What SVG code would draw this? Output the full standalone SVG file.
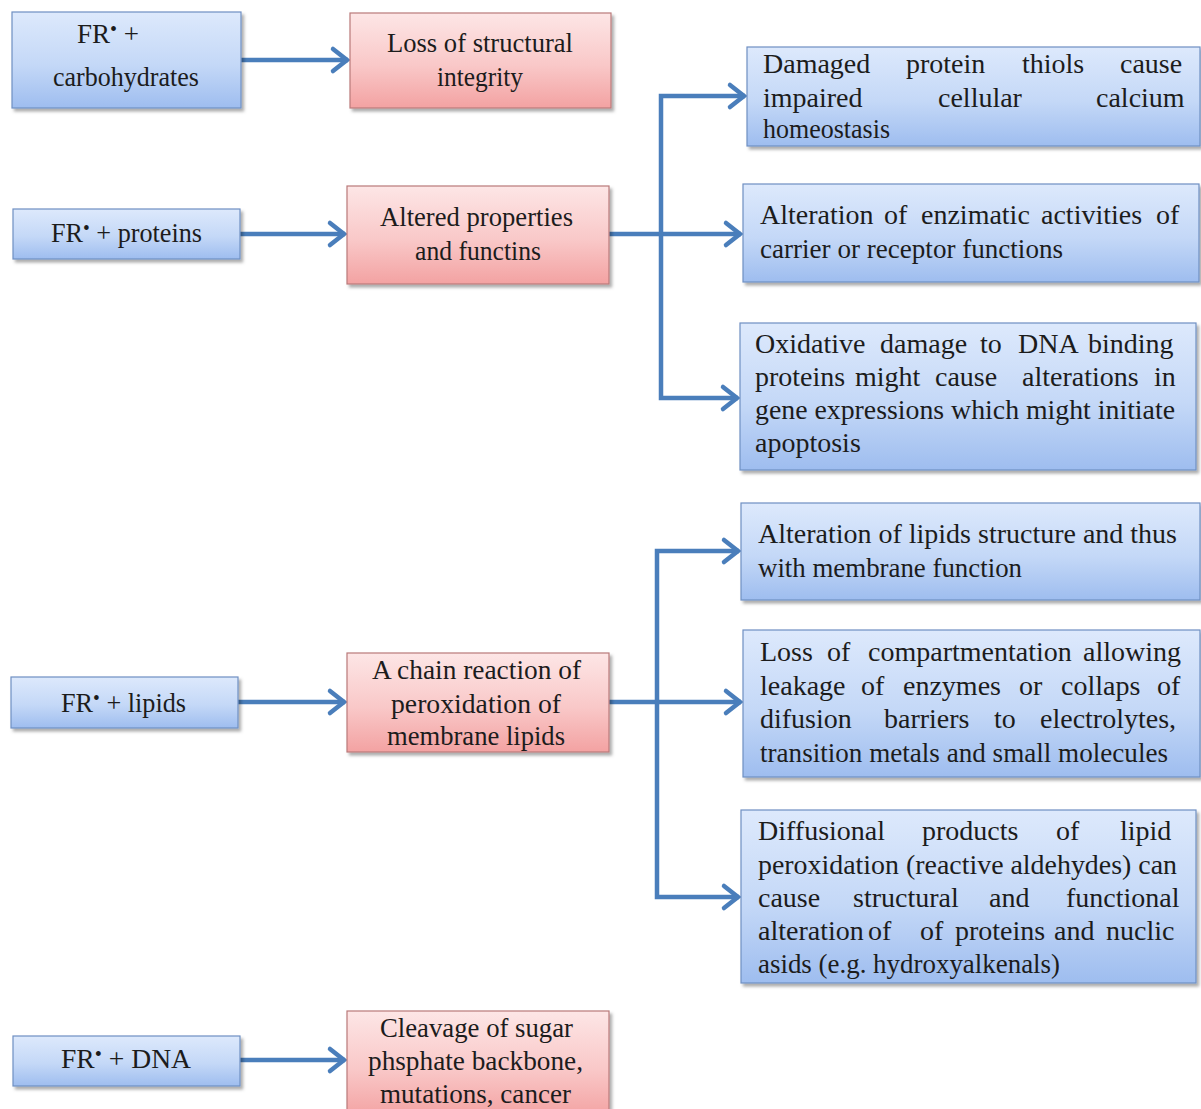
<svg xmlns="http://www.w3.org/2000/svg" width="1201" height="1109" viewBox="0 0 1201 1109">
<defs>
<linearGradient id="gBlue" x1="0" y1="0" x2="0" y2="1">
<stop offset="0" stop-color="#dde9fc"/>
<stop offset="0.55" stop-color="#c4d8f7"/>
<stop offset="1" stop-color="#9ebdef"/>
</linearGradient>
<linearGradient id="gPink" x1="0" y1="0" x2="0" y2="1">
<stop offset="0" stop-color="#fde6e6"/>
<stop offset="0.55" stop-color="#f9c8c8"/>
<stop offset="1" stop-color="#f3a2a2"/>
</linearGradient>
<filter id="sh" x="-5%" y="-10%" width="115%" height="130%">
<feDropShadow dx="2.5" dy="3" stdDeviation="1.8" flood-color="#000" flood-opacity="0.32"/>
</filter>
<marker id="arr" markerUnits="userSpaceOnUse" markerWidth="26" markerHeight="30" viewBox="0 0 26 30" refX="20" refY="15" orient="auto">
<path d="M5,4 L19,15 L5,26" fill="none" stroke="#4a7ebb" stroke-width="4.5" stroke-linecap="round" stroke-linejoin="miter"/>
</marker>
</defs>
<style>
.blue{fill:url(#gBlue);stroke:#6f8fc2;stroke-width:1.2;filter:url(#sh)}
.pink{fill:url(#gPink);stroke:#b97a7a;stroke-width:1.2;filter:url(#sh)}
text{font-family:"Liberation Serif","Times New Roman",serif;fill:#1c1c1c}
.l{font-size:27px}
.r{font-size:28px}
.dot{font-size:20px}
.con{fill:none;stroke:#4a7ebb;stroke-width:4.5;stroke-linejoin:miter}
.ar{marker-end:url(#arr)}
</style>
<rect width="1201" height="1109" fill="#ffffff"/>

<g id="connectors">
<path class="con ar" d="M241,60 H348"/>
<path class="con ar" d="M240,234 H345"/>
<path class="con ar" d="M238,702 H345"/>
<path class="con ar" d="M240,1060 H345"/>
<path class="con ar" d="M609,234 H741"/>
<path class="con ar" d="M661,234 V96 H745"/>
<path class="con ar" d="M661,234 V398 H738"/>
<path class="con ar" d="M609,702 H741"/>
<path class="con ar" d="M657,702 V551 H739"/>
<path class="con ar" d="M657,702 V897 H739"/>
</g>

<g id="n-carb">
<rect class="blue" x="12" y="12" width="229" height="96"/>
<text class="l" x="77" y="43">FR<tspan class="dot" dy="-7">•</tspan><tspan dy="7"> +</tspan></text>
<text class="l" x="53" y="86" textLength="146" lengthAdjust="spacingAndGlyphs">carbohydrates</text>
</g>

<g id="n-loss">
<rect class="pink" x="350" y="13" width="261" height="95"/>
<text class="l" x="387" y="52" textLength="186" lengthAdjust="spacingAndGlyphs">Loss of structural</text>
<text class="l" x="437" y="86" textLength="86" lengthAdjust="spacingAndGlyphs">integrity</text>
</g>

<g id="n-proteins">
<rect class="blue" x="13" y="209" width="227" height="50"/>
<text class="l" x="51" y="242" textLength="151" lengthAdjust="spacingAndGlyphs">FR<tspan class="dot" dy="-7">•</tspan><tspan dy="7"> + proteins</tspan></text>
</g>

<g id="n-altered">
<rect class="pink" x="347" y="186" width="262" height="98"/>
<text class="l" x="380" y="226" textLength="193" lengthAdjust="spacingAndGlyphs">Altered properties</text>
<text class="l" x="415" y="260" textLength="126" lengthAdjust="spacingAndGlyphs">and functins</text>
</g>

<g id="n-damaged">
<rect class="blue" x="747" y="47" width="453" height="99"/>
<text class="r" y="73"><tspan x="763">Damaged</tspan><tspan x="906">protein</tspan><tspan x="1022">thiols</tspan><tspan x="1120">cause</tspan></text>
<text class="r" y="107"><tspan x="763">impaired</tspan><tspan x="938">cellular</tspan><tspan x="1096">calcium</tspan></text>
<text class="r" x="763" y="138" textLength="127" lengthAdjust="spacingAndGlyphs">homeostasis</text>
</g>

<g id="n-enzimatic">
<rect class="blue" x="743" y="184" width="456" height="98"/>
<text class="r" y="224"><tspan x="760">Alteration</tspan><tspan x="884">of</tspan><tspan x="921">enzimatic</tspan><tspan x="1041">activities</tspan><tspan x="1156">of</tspan></text>
<text class="r" x="760" y="258" textLength="303" lengthAdjust="spacingAndGlyphs">carrier or receptor functions</text>
</g>

<g id="n-oxidative">
<rect class="blue" x="740" y="323" width="456" height="147"/>
<text class="r" y="353"><tspan x="755">Oxidative</tspan><tspan x="880">damage</tspan><tspan x="980">to</tspan><tspan x="1018">DNA</tspan><tspan x="1088">binding</tspan></text>
<text class="r" y="386"><tspan x="755">proteins</tspan><tspan x="855">might</tspan><tspan x="935">cause</tspan><tspan x="1022">alterations</tspan><tspan x="1154">in</tspan></text>
<text class="r" x="755" y="419" textLength="420" lengthAdjust="spacingAndGlyphs">gene expressions which might initiate</text>
<text class="r" x="755" y="452">apoptosis</text>
</g>

<g id="n-lipids">
<rect class="blue" x="11" y="677" width="227" height="51"/>
<text class="l" x="61" y="712" textLength="125" lengthAdjust="spacingAndGlyphs">FR<tspan class="dot" dy="-7">•</tspan><tspan dy="7"> + lipids</tspan></text>
</g>

<g id="n-chain">
<rect class="pink" x="347" y="653" width="262" height="99"/>
<text class="l" x="372" y="679" textLength="209" lengthAdjust="spacingAndGlyphs">A chain reaction of</text>
<text class="l" x="391" y="713" textLength="170" lengthAdjust="spacingAndGlyphs">peroxidation of</text>
<text class="l" x="387" y="745" textLength="178" lengthAdjust="spacingAndGlyphs">membrane lipids</text>
</g>

<g id="n-altlipids">
<rect class="blue" x="741" y="503" width="459" height="97"/>
<text class="r" x="758" y="543" textLength="419" lengthAdjust="spacingAndGlyphs">Alteration of lipids structure and thus</text>
<text class="r" x="758" y="577" textLength="264" lengthAdjust="spacingAndGlyphs">with membrane function</text>
</g>

<g id="n-compartment">
<rect class="blue" x="743" y="630" width="457" height="147"/>
<text class="r" y="661"><tspan x="760">Loss</tspan><tspan x="827">of</tspan><tspan x="868">compartmentation</tspan><tspan x="1083">allowing</tspan></text>
<text class="r" y="695"><tspan x="760">leakage</tspan><tspan x="861">of</tspan><tspan x="903">enzymes</tspan><tspan x="1019">or</tspan><tspan x="1061">collaps</tspan><tspan x="1157">of</tspan></text>
<text class="r" y="728"><tspan x="760">difusion</tspan><tspan x="884">barriers</tspan><tspan x="994">to</tspan><tspan x="1040">electrolytes,</tspan></text>
<text class="r" x="760" y="762" textLength="408" lengthAdjust="spacingAndGlyphs">transition metals and small molecules</text>
</g>

<g id="n-diffusional">
<rect class="blue" x="741" y="810" width="455" height="173"/>
<text class="r" y="840"><tspan x="758">Diffusional</tspan><tspan x="922">products</tspan><tspan x="1056">of</tspan><tspan x="1120">lipid</tspan></text>
<text class="r" x="758" y="874" textLength="419" lengthAdjust="spacingAndGlyphs">peroxidation (reactive aldehydes) can</text>
<text class="r" y="907"><tspan x="758">cause</tspan><tspan x="853">structural</tspan><tspan x="989">and</tspan><tspan x="1066">functional</tspan></text>
<text class="r" y="940"><tspan x="758">alteration</tspan><tspan x="868">of</tspan><tspan x="920">of</tspan><tspan x="955">proteins</tspan><tspan x="1054">and</tspan><tspan x="1106">nuclic</tspan></text>
<text class="r" x="758" y="973" textLength="302" lengthAdjust="spacingAndGlyphs">asids (e.g. hydroxyalkenals)</text>
</g>

<g id="n-dna">
<rect class="blue" x="13" y="1036" width="227" height="50"/>
<text class="l" x="61" y="1068" textLength="130" lengthAdjust="spacingAndGlyphs">FR<tspan class="dot" dy="-7">•</tspan><tspan dy="7"> + DNA</tspan></text>
</g>

<g id="n-cleavage">
<rect class="pink" x="347" y="1011" width="262" height="106"/>
<text class="l" x="380" y="1037" textLength="193" lengthAdjust="spacingAndGlyphs">Cleavage of sugar</text>
<text class="l" x="368" y="1070" textLength="215" lengthAdjust="spacingAndGlyphs">phsphate backbone,</text>
<text class="l" x="380" y="1103" textLength="191" lengthAdjust="spacingAndGlyphs">mutations, cancer</text>
</g>
</svg>
